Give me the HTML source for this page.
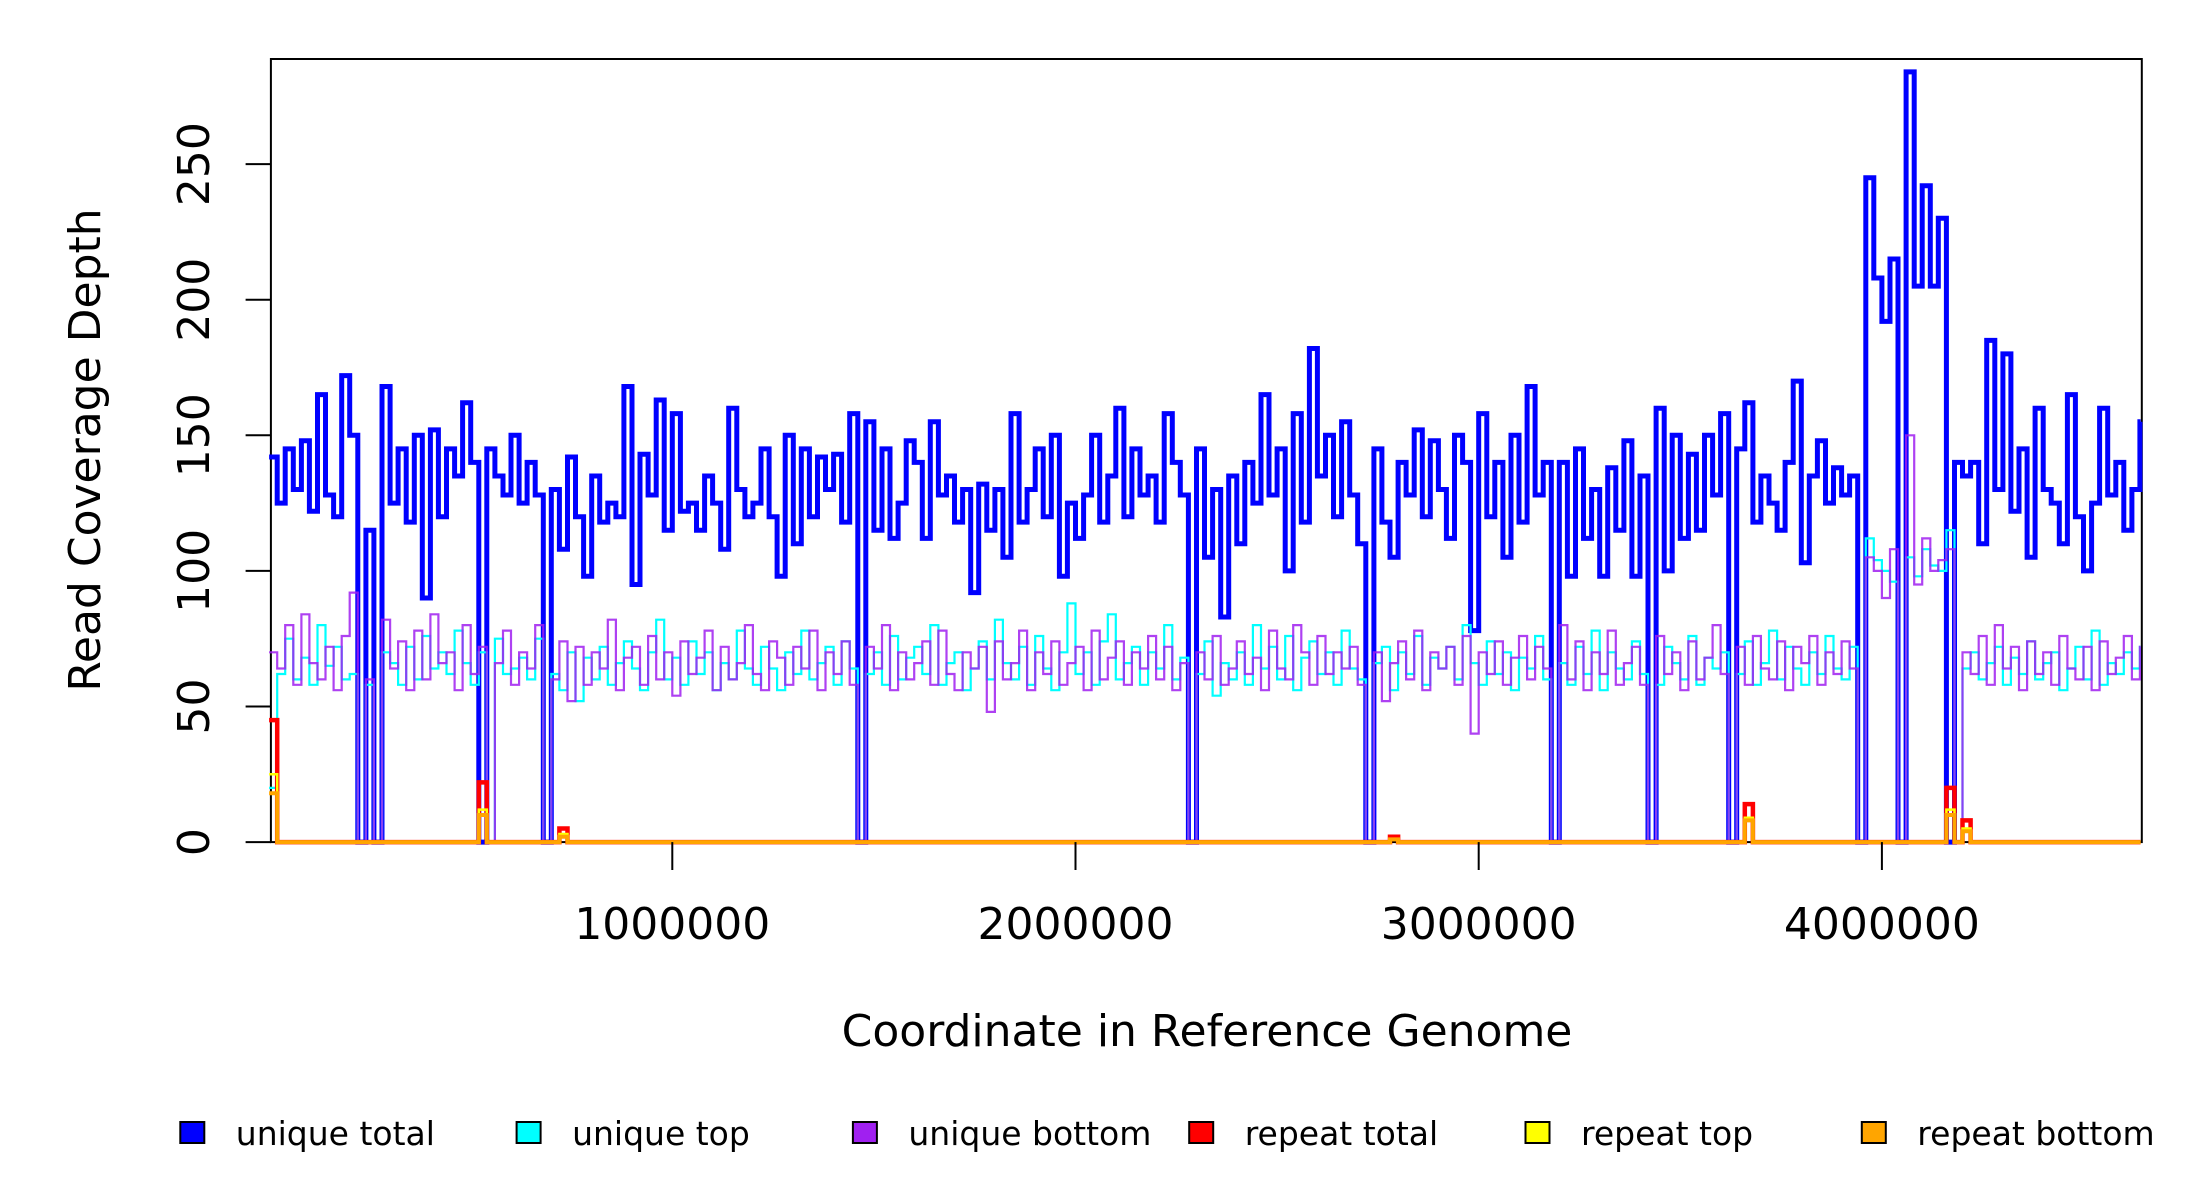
<!DOCTYPE html>
<html><head><meta charset="utf-8">
<style>
html,body{margin:0;padding:0;background:#fff;}
svg{display:block;font-family:"DejaVu Sans","Liberation Sans",sans-serif;}
</style></head>
<body>
<svg id="chart" width="2200" height="1200" viewBox="0 0 2200 1200" xmlns="http://www.w3.org/2000/svg">
  <rect x="0" y="0" width="2200" height="1200" fill="#fff"/>
  <rect x="270.9" y="59" width="1870.9" height="783.1" fill="none" stroke="#000" stroke-width="2"/>
  <g id="series"></g>
  <g id="yaxis"></g>
  <g id="xaxis"></g>
  <text x="0" y="0" transform="translate(100,450) rotate(-90)" text-anchor="middle" font-size="44">Read Coverage Depth</text>
  <text x="1207" y="1046" text-anchor="middle" font-size="44">Coordinate in Reference Genome</text>
  <g id="legend"></g>
</svg>
<script>
const binSize = 20000;
const genomeLength = 4641652;
const yTickValues = [0, 50, 100, 150, 200, 250];
const xTickValues = [1000000, 2000000, 3000000, 4000000];
const xTickLabels = ["1000000", "2000000", "3000000", "4000000"];
const legendLabels = ["unique total", "unique top", "unique bottom", "repeat total", "repeat top", "repeat bottom"];
const seriesColors = ["#0000ff", "#00ffff", "#a020f0", "#ff0000", "#ffff00", "#ffa500"];

const uniqueTotal = [
142,125,145,130,148, 122,165,128,120,172,
150,0,115,0,168, 125,145,118,150,90,
152,120,145,135,162, 140,0,145,135,128,
150,125,140,128,0, 130,108,142,120,98,
135,118,125,120,168, 95,143,128,163,115,
158,122,125,115,135, 125,108,160,130,120,
125,145,120,98,150, 110,145,120,142,130,
143,118,158,0,155, 115,145,112,125,148,
140,112,155,128,135, 118,130,92,132,115,
130,105,158,118,130, 145,120,150,98,125,
112,128,150,118,135, 160,120,145,128,135,
118,158,140,128,0, 145,105,130,83,135,
110,140,125,165,128, 145,100,158,118,182,
135,150,120,155,128, 110,0,145,118,105,
140,128,152,120,148, 130,112,150,140,78,
158,120,140,105,150, 118,168,128,140,0,
140,98,145,112,130, 98,138,115,148,98,
135,0,160,100,150, 112,143,115,150,128,
158,0,145,162,118, 135,125,115,140,170,
103,135,148,125,138, 128,135,0,245,208,
192,215,0,284,205, 242,205,230,0,140,
135,140,110,185,130, 180,122,145,105,160,
130,125,110,165,120, 100,125,160,128,140,
115,130,155];

const uniqueTop = [
20,62,75,60,68,58,80,65,72,60,
62,0,58,0,70,66,58,72,60,76,
64,70,62,78,66,58,70,0,75,62,
64,68,60,75,0,62,56,70,52,68,
60,72,58,66,74,64,56,70,82,60,
68,58,74,62,70,56,66,60,78,64,
58,72,64,56,70,62,78,60,66,72,
58,74,64,0,62,70,58,76,60,68,
72,62,80,58,66,70,56,64,74,60,
82,66,60,72,58,76,64,56,70,88,
62,70,58,74,84,60,66,72,58,70,
64,80,60,68,0,62,74,54,66,60,
70,58,80,64,72,60,76,56,68,74,
62,70,58,78,64,60,0,66,72,56,
70,62,76,58,68,64,72,60,80,66,
58,74,62,70,56,68,64,76,60,0,
66,58,72,62,78,56,70,64,60,74,
62,0,58,72,66,60,76,58,68,64,
70,0,62,74,58,66,78,60,72,64,
58,70,62,76,64,60,72,0,112,104,
100,96,0,105,98,108,102,100,115,0,
64,70,60,66,72,58,68,62,74,60,
66,70,56,64,72,60,78,58,66,62,
70,64,72];

const uniqueBottom = [
70,64,80,58,84,66,60,72,56,76,
92,0,60,0,82,64,74,56,78,60,
84,66,70,56,80,62,72,0,66,78,
58,70,64,80,0,60,74,52,72,58,
70,64,82,56,68,72,58,76,60,70,
54,74,62,68,78,56,72,60,66,80,
62,56,74,68,58,72,64,78,56,70,
62,74,58,0,72,64,80,56,70,60,
66,74,58,78,62,56,70,64,72,48,
74,60,66,78,56,70,62,74,58,66,
72,56,78,60,68,74,58,70,64,76,
60,72,56,66,0,70,60,76,58,64,
74,62,68,56,78,64,60,80,70,58,
76,62,70,64,72,58,0,70,52,66,
74,60,78,56,70,64,72,58,76,40,
70,62,74,58,68,76,60,72,64,0,
80,60,74,56,70,62,78,58,66,72,
58,0,76,62,70,56,74,60,68,80,
62,0,72,58,76,64,60,74,56,72,
66,76,58,70,62,74,64,0,105,100,
90,108,0,150,95,112,100,104,108,0,
70,62,76,58,80,64,72,56,74,62,
70,58,76,64,60,72,56,74,62,68,
76,60,72];

const repeatTotal = [
45,0,0,0,0,0,0,0,0,0,
0,0,0,0,0,0,0,0,0,0,
0,0,0,0,0,0,22,0,0,0,
0,0,0,0,0,0,5,0,0,0,
0,0,0,0,0,0,0,0,0,0,
0,0,0,0,0,0,0,0,0,0,
0,0,0,0,0,0,0,0,0,0,
0,0,0,0,0,0,0,0,0,0,
0,0,0,0,0,0,0,0,0,0,
0,0,0,0,0,0,0,0,0,0,
0,0,0,0,0,0,0,0,0,0,
0,0,0,0,0,0,0,0,0,0,
0,0,0,0,0,0,0,0,0,0,
0,0,0,0,0,0,0,0,0,2,
0,0,0,0,0,0,0,0,0,0,
0,0,0,0,0,0,0,0,0,0,
0,0,0,0,0,0,0,0,0,0,
0,0,0,0,0,0,0,0,0,0,
0,0,0,14,0,0,0,0,0,0,
0,0,0,0,0,0,0,0,0,0,
0,0,0,0,0,0,0,0,20,0,
8,0,0,0,0,0,0,0,0,0,
0,0,0,0,0,0,0,0,0,0,
0,0,0];

const repeatTop = [
25,0,0,0,0,0,0,0,0,0,
0,0,0,0,0,0,0,0,0,0,
0,0,0,0,0,0,12,0,0,0,
0,0,0,0,0,0,3,0,0,0,
0,0,0,0,0,0,0,0,0,0,
0,0,0,0,0,0,0,0,0,0,
0,0,0,0,0,0,0,0,0,0,
0,0,0,0,0,0,0,0,0,0,
0,0,0,0,0,0,0,0,0,0,
0,0,0,0,0,0,0,0,0,0,
0,0,0,0,0,0,0,0,0,0,
0,0,0,0,0,0,0,0,0,0,
0,0,0,0,0,0,0,0,0,0,
0,0,0,0,0,0,0,0,0,1,
0,0,0,0,0,0,0,0,0,0,
0,0,0,0,0,0,0,0,0,0,
0,0,0,0,0,0,0,0,0,0,
0,0,0,0,0,0,0,0,0,0,
0,0,0,9,0,0,0,0,0,0,
0,0,0,0,0,0,0,0,0,0,
0,0,0,0,0,0,0,0,12,0,
5,0,0,0,0,0,0,0,0,0,
0,0,0,0,0,0,0,0,0,0,
0,0,0];

const repeatBottom = [
18,0,0,0,0,0,0,0,0,0,
0,0,0,0,0,0,0,0,0,0,
0,0,0,0,0,0,10,0,0,0,
0,0,0,0,0,0,2,0,0,0,
0,0,0,0,0,0,0,0,0,0,
0,0,0,0,0,0,0,0,0,0,
0,0,0,0,0,0,0,0,0,0,
0,0,0,0,0,0,0,0,0,0,
0,0,0,0,0,0,0,0,0,0,
0,0,0,0,0,0,0,0,0,0,
0,0,0,0,0,0,0,0,0,0,
0,0,0,0,0,0,0,0,0,0,
0,0,0,0,0,0,0,0,0,0,
0,0,0,0,0,0,0,0,0,1,
0,0,0,0,0,0,0,0,0,0,
0,0,0,0,0,0,0,0,0,0,
0,0,0,0,0,0,0,0,0,0,
0,0,0,0,0,0,0,0,0,0,
0,0,0,8,0,0,0,0,0,0,
0,0,0,0,0,0,0,0,0,0,
0,0,0,0,0,0,0,0,10,0,
4,0,0,0,0,0,0,0,0,0,
0,0,0,0,0,0,0,0,0,0,
0,0,0];

const NS = "http://www.w3.org/2000/svg";
const plotL = 270.9, plotR = 2141.8, plotT = 59, plotB = 842.1;
const x0px = 269.1, pxPerMb = 403.2, pxPer50 = 135.6;
function xScale(v){ return Math.min(x0px + (v / 1e6) * pxPerMb, plotR); }
function yScale(v){ return plotB - (v / 50) * pxPer50; }

function stepPath(vals){
  let d = "M" + xScale(0).toFixed(1) + "," + yScale(vals[0]).toFixed(1);
  for (let i = 0; i < vals.length; i++){
    const xe = xScale(Math.min((i + 1) * binSize, genomeLength));
    d += "H" + xe.toFixed(1);
    if (i + 1 < vals.length) d += "V" + yScale(vals[i + 1]).toFixed(1);
  }
  return d;
}

const seriesLayer = document.getElementById("series");
const seriesList = [
  {vals: uniqueTotal, name: "unique-total-line", w: 5},
  {vals: uniqueTop, name: "unique-top-line", w: 2.2},
  {vals: uniqueBottom, name: "unique-bottom-line", w: 2.2},
  {vals: repeatTotal, name: "repeat-total-line", w: 4.5},
  {vals: repeatTop, name: "repeat-top-line", w: 2.5},
  {vals: repeatBottom, name: "repeat-bottom-line", w: 4}
];
seriesList.forEach((s, k) => {
  const p = document.createElementNS(NS, "path");
  p.setAttribute("d", stepPath(s.vals));
  p.setAttribute("fill", "none");
  p.setAttribute("stroke", seriesColors[k]);
  p.setAttribute("stroke-width", s.w);
  if (k === 2) p.setAttribute("stroke-opacity", "0.85");
  
  
  seriesLayer.appendChild(p);
});

const yaxis = document.getElementById("yaxis");
yTickValues.forEach(v => {
  const y = yScale(v);
  const t = document.createElementNS(NS, "line");
  t.setAttribute("x1", 245.6); t.setAttribute("x2", plotL);
  t.setAttribute("y1", y); t.setAttribute("y2", y);
  t.setAttribute("stroke", "#000"); t.setAttribute("stroke-width", 2);
  
  
  yaxis.appendChild(t);
  const tx = document.createElementNS(NS, "text");
  tx.setAttribute("transform", "translate(209," + y + ") rotate(-90)");
  tx.setAttribute("text-anchor", "middle");
  tx.setAttribute("font-size", "44");
  tx.textContent = String(v);
  
  
  yaxis.appendChild(tx);
});

const xaxis = document.getElementById("xaxis");
xTickValues.forEach((v, i) => {
  const x = xScale(v);
  const t = document.createElementNS(NS, "line");
  t.setAttribute("x1", x); t.setAttribute("x2", x);
  t.setAttribute("y1", plotB); t.setAttribute("y2", 870);
  t.setAttribute("stroke", "#000"); t.setAttribute("stroke-width", 2);
  
  
  xaxis.appendChild(t);
  const tx = document.createElementNS(NS, "text");
  tx.setAttribute("x", x); tx.setAttribute("y", 939);
  tx.setAttribute("text-anchor", "middle");
  tx.setAttribute("font-size", "44");
  tx.textContent = xTickLabels[i];
  
  
  xaxis.appendChild(tx);
});

const legend = document.getElementById("legend");
legendLabels.forEach((lab, i) => {
  const cx = 192.3 + i * 336.3;
  const r = document.createElementNS(NS, "rect");
  r.setAttribute("x", cx - 12); r.setAttribute("y", 1122);
  r.setAttribute("width", 24); r.setAttribute("height", 21);
  r.setAttribute("fill", seriesColors[i]);
  r.setAttribute("stroke", "#000"); r.setAttribute("stroke-width", 2);
  
  
  legend.appendChild(r);
  const tx = document.createElementNS(NS, "text");
  tx.setAttribute("x", cx + 43.5); tx.setAttribute("y", 1145);
  tx.setAttribute("font-size", "33");
  tx.textContent = lab;
  
  
  legend.appendChild(tx);
});
</script>
</body></html>
